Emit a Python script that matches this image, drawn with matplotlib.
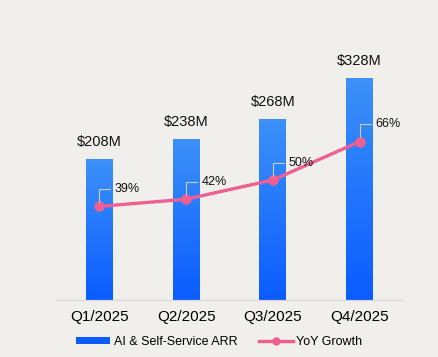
import numpy as np
import matplotlib.pyplot as plt
from matplotlib.colors import LinearSegmentedColormap
from matplotlib.lines import Line2D
from matplotlib.patches import Patch

# data
quarters = ["Q1/2025", "Q2/2025", "Q3/2025", "Q4/2025"]
arr_values = [208, 238, 268, 328]
arr_labels = ["$208M", "$238M", "$268M", "$328M"]
yoy_growth = [39, 42, 50, 66]

bg = "#f1efeb"
bar_top = "#3d91f8"
bar_bottom = "#0a5cff"
line_color = "#ef5f91"

plt.rcParams["font.family"] = ["Liberation Sans", "DejaVu Sans"]

W, H = 439, 357
fig = plt.figure(figsize=(W / 100, H / 100), dpi=100, facecolor=bg)
ax_l, ax_r, ax_b, ax_t = 56, 403, 300, 30
ax = fig.add_axes([ax_l / W, 1 - ax_b / H, (ax_r - ax_l) / W, (ax_b - ax_t) / H])
ax.set_facecolor(bg)
ax2 = ax.twinx()

x = np.arange(len(quarters))
bar_w = 0.31
px_per_unit = 0.677
ymax = (ax_b - ax_t) / px_per_unit
ax.set_xlim(-0.5, len(quarters) - 0.5)
ax.set_ylim(0, ymax)

# gradient bars
cmap = LinearSegmentedColormap.from_list("bar", [bar_bottom, bar_top])
grad = np.linspace(0, 1, 256).reshape(-1, 1)
bars = ax.bar(x, arr_values, width=bar_w, color="none", edgecolor="none", zorder=2)
for b in bars:
    x0, y0 = b.get_x(), b.get_y()
    im = ax.imshow(grad, cmap=cmap, origin="lower", aspect="auto",
                   extent=(x0, x0 + b.get_width(), y0, y0 + b.get_height()), zorder=2)
    im.set_clip_path(b)

for xi, v, lab in zip(x, arr_values, arr_labels):
    ax.annotate(lab, (xi, v), xytext=(0, 7), textcoords="offset points",
                ha="center", va="bottom", fontsize=10.5, color="#111111")

# growth line
px_per_pct = 2.4
ax2.set_ylim(0, (ax_b - ax_t) / px_per_pct)
ax2.plot(x, yoy_growth, color=line_color, linewidth=2.4, marker="o",
         markersize=6.5, zorder=3)
for xi, g in zip(x, yoy_growth):
    ax2.annotate(f"{g}%", (xi, g), xytext=(11, 12.5), textcoords="offset points",
                 ha="left", va="center", fontsize=9, color="#111111",
                 arrowprops=dict(arrowstyle="-", color="#cdcdcd", lw=0.8,
                                 shrinkA=1, shrinkB=3,
                                 patchB=None,
                                 connectionstyle="angle,angleA=0,angleB=90,rad=0"))

# axes styling
ax.set_xticks(x)
ax.set_xticklabels(quarters, fontsize=11)
ax.tick_params(axis="x", length=0, pad=7)
ax.set_yticks([])
ax2.set_yticks([])
for a in (ax, ax2):
    for s in ["top", "right", "left"]:
        a.spines[s].set_visible(False)
    a.spines["bottom"].set_color("#d8d8d8")
    a.spines["bottom"].set_linewidth(0.8)

handles = [Patch(facecolor=bar_bottom, edgecolor="none"),
           Line2D([], [], color=line_color, linewidth=2.4, marker="o", markersize=5)]
fig.legend(handles, ["AI & Self-Service ARR", "YoY Growth"], loc="center",
           bbox_to_anchor=(0.5, 1 - 342 / H), ncol=2, frameon=False,
           fontsize=9, handlelength=2.7, handleheight=0.55, columnspacing=1.7,
           handletextpad=0.3)

fig.savefig("out.png", dpi=100, facecolor=bg)
